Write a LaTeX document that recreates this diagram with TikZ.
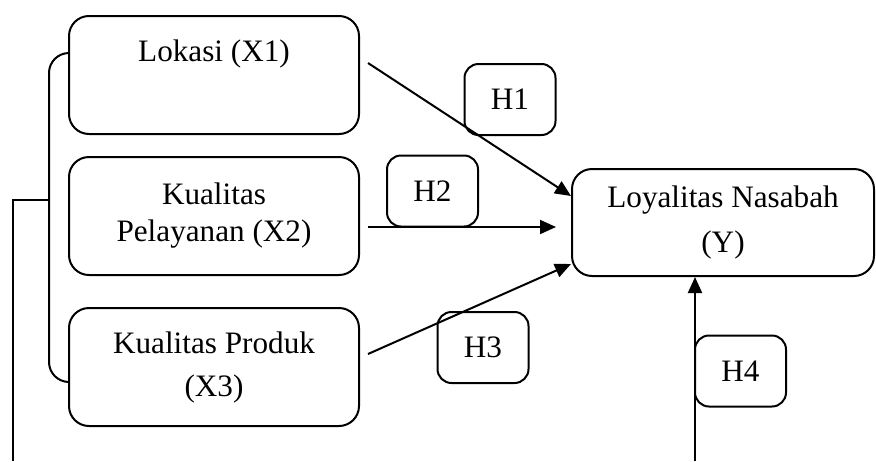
\documentclass[tikz,border=0pt]{standalone}
\usepackage{fontspec}
\setmainfont{Liberation Serif}
\usetikzlibrary{arrows.meta}

\begin{document}
\begin{tikzpicture}[x=0.5pt,y=-0.5pt,line width=1pt,
    font=\fontsize{15.6}{18.5}\selectfont,
    var/.style={draw,rounded corners=10pt,minimum width=145pt,minimum height=59pt,align=center,inner sep=0pt},
    hyp/.style={draw,rounded corners=7pt,minimum width=45.5pt,minimum height=35.5pt,inner sep=0pt},
    arr/.style={-{Triangle[length=8pt,width=7pt]}}]
    \useasboundingbox (0,0) rectangle (876,461);
    % variables
    \node[var] (x1) at (214,75) {Lokasi (X1)\\ \strut};
    \node[var] (x2) at (214,216) {Kualitas\\Pelayanan (X2)};
    \node[var] (x3) at (214,367) {Kualitas Produk\\[3pt](X3)};
    \node[var,minimum width=151pt,minimum height=53.5pt] (y) at (723,222.5) {Loyalitas Nasabah\\[4pt](Y)};
    % hypotheses
    \node[hyp] (h1) at (510,99.5) {H1};
    \node[hyp] (h2) at (432.5,191) {H2};
    \node[hyp] (h3) at (483,347.5) {H3};
    \node[hyp] (h4) at (740.5,371) {H4};
    % simultaneous bracket
    \draw[rounded corners=10pt] ([yshift=11pt]x1.west) -- (49,53) -- (49,382) -- ([yshift=-7.5pt]x3.west);
    \coordinate (fork) at (49,200);
    \coordinate (foot) at (13,461);
    \draw (fork) -| (foot);
    % partial effects
    \coordinate (s1) at (368,63);
    \coordinate (s2) at (368,227);
    \coordinate (e2) at (556,227);
    \coordinate (s3) at (368,354);
    \draw[arr] (s1) -- ([yshift=13.25pt]y.west);
    \draw[arr] (s2) -- (e2);
    \draw[arr] (s3) -- ([yshift=-20.75pt]y.west);
    \coordinate (base) at (695,461);
    \draw[arr] (base) -- (base |- y.south);
\end{tikzpicture}
\end{document}
